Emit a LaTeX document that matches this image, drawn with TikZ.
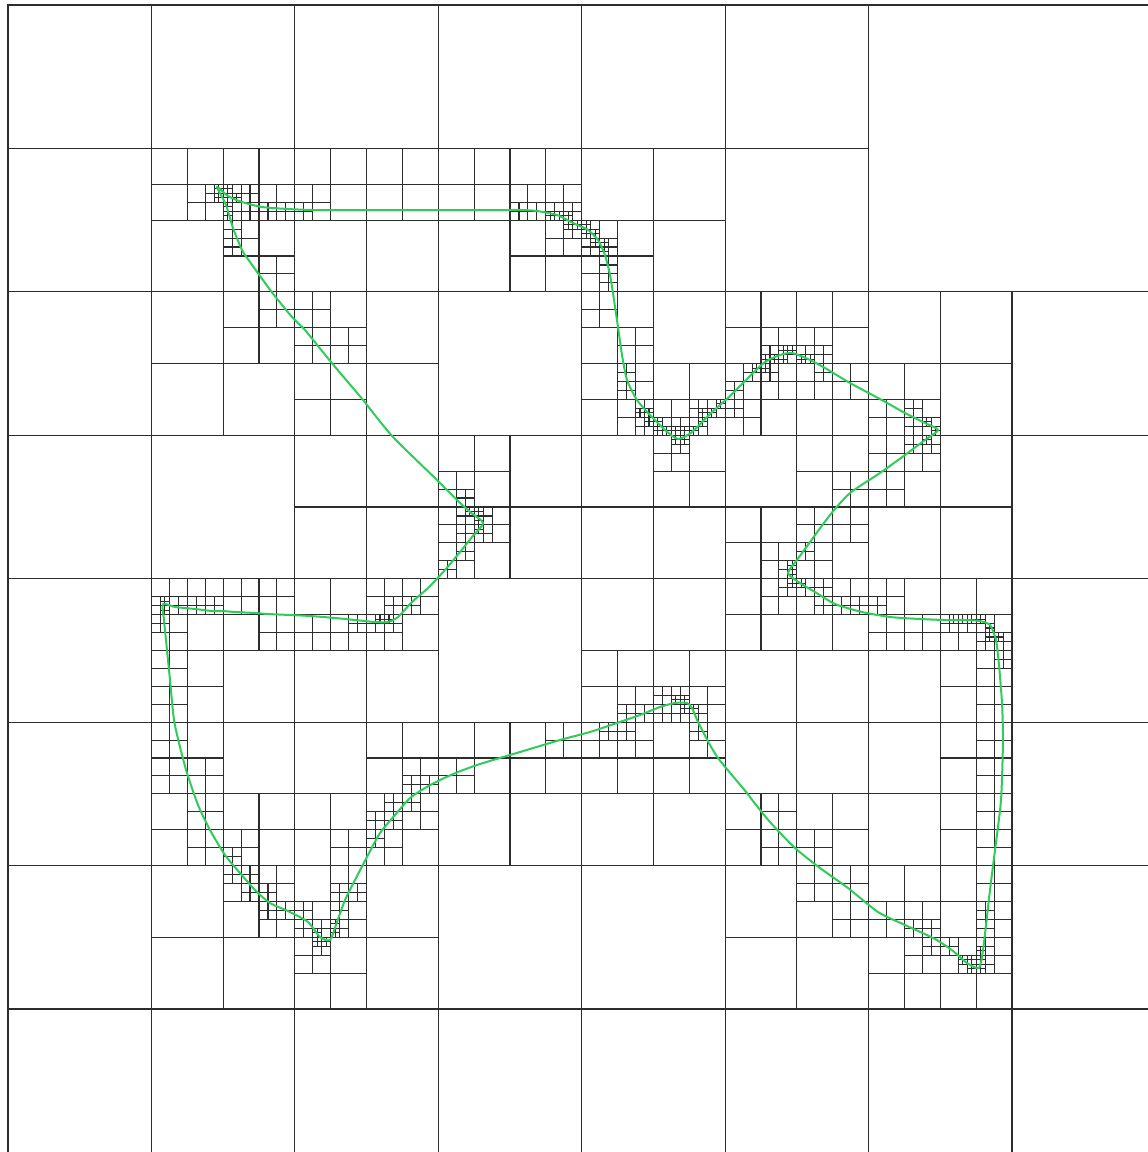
\documentclass[tikz,border=0pt]{standalone}
\usepackage{tikz}
\definecolor{meshGray}{RGB}{45,45,45}
\definecolor{curveGreen}{RGB}{46,204,90}

% quadtree helpers: lengths in pt (1pt = 1px), y counted downwards
\newif\ifqsplit
\newdimen\qxa \newdimen\qxb \newdimen\qya \newdimen\qyb \newdimen\qsz
\def\qsamples{}
\def\qcurve{}
\let\qpt\relax

% contour: start point, then points with the wanted cell size there
\def\qstart#1#2#3{\gdef\qlx{#1}\gdef\qly{#2}\gdef\qlt{#3}}
\def\qto#1#2#3{%
  \pgfmathsetmacro\qlen{veclen(#1-\qlx,#2-\qly)}%
  \pgfmathsetmacro\qstep{max(2,min(12,min(#3,\qlt)/2.5))}%
  \pgfmathtruncatemacro\qn{max(1,ceil(\qlen/\qstep))}%
  \pgfmathtruncatemacro\qnm{\qn-1}%
  \foreach \qk in {0,...,\qnm}{%
    \xdef\qsamples{\qsamples\qpt
      {\the\dimexpr\qlx pt+(#1pt-\qlx pt)*\qk/\qn\relax}%
      {\the\dimexpr\qly pt+(#2pt-\qly pt)*\qk/\qn\relax}%
      {\the\dimexpr\qlt pt+(#3pt-\qlt pt)*\qk/\qn\relax}}}%
  \gdef\qlx{#1}\gdef\qly{#2}\gdef\qlt{#3}%
  \xdef\qcurve{\qcurve (#1pt,-#2pt)}}

% split a cell when a sample inside it wants smaller cells
\def\qcheck#1#2#3{%
  \ifqsplit\else
    \ifdim#3<\qsz
      \ifdim#1>\qxa \ifdim#1<\qxb
        \ifdim#2>\qya \ifdim#2<\qyb \qsplittrue \fi\fi
      \fi\fi
    \fi
  \fi}
\def\qtest#1#2#3{%
  \qsplitfalse
  \qsz=#3\relax
  \qxa=#1\relax \qxb=\dimexpr#1+#3\relax
  \qya=#2\relax \qyb=\dimexpr#2+#3\relax
  \let\qpt\qcheck \qsamples \let\qpt\relax}
\def\qcell#1#2#3{%
  \qtest{#1}{#2}{#3}%
  \ifqsplit
    \edef\qh{\the\dimexpr#3/2\relax}%
    \edef\qxm{\the\dimexpr#1+#3/2\relax}%
    \edef\qym{\the\dimexpr#2+#3/2\relax}%
    \edef\qnext{\noexpand\qcell{#1}{#2}{\qh}\noexpand\qcell{\qxm}{#2}{\qh}%
      \noexpand\qcell{#1}{\qym}{\qh}\noexpand\qcell{\qxm}{\qym}{\qh}}%
  \else
    \def\qnext{\draw[cell] (#1,-#2) rectangle ++(#3,-#3);}%
  \fi
  \qnext}

\begin{document}
\begin{tikzpicture}[
    cell/.style={draw=meshGray, line width=1.1pt},
    contour/.style={draw=curveGreen, line width=2pt, line join=round}
]
    \useasboundingbox (0,0) rectangle (1148pt,-1152pt);
    \clip (0,0) rectangle (1148pt,-1152pt);

    % Contour points: x, y, wanted cell size
    \qstart{217}{187}{5}
    \qto{228}{196}{8}  \qto{242}{202}{10} \qto{262}{207}{10} \qto{288}{209}{15}
    \qto{312}{210}{20} \qto{335}{210}{40} \qto{370}{210}{80} \qto{430}{210}{80}
    \qto{445}{210}{60} \qto{470}{210}{40} \qto{508}{210}{40} \qto{522}{210}{20}
    \qto{537}{211}{10} \qto{557}{215}{8}  \qto{573}{223}{6}  \qto{588}{230}{5}
    \qto{598}{240}{5}  \qto{605}{255}{8}  \qto{610}{275}{15} \qto{614}{300}{20}
    \qto{618}{327}{40} \qto{622}{355}{25} \qto{627}{380}{15} \qto{637}{400}{10}
    \qto{650}{415}{8}  \qto{665}{430}{6}  \qto{678}{439}{5}  \qto{692}{432}{6}
    \qto{710}{414}{8}  \qto{730}{396}{10} \qto{748}{378}{10} \qto{765}{362}{8}
    \qto{780}{355}{6}  \qto{792}{353}{5}  \qto{808}{359}{8}  \qto{825}{368}{15}
    \qto{850}{383}{40} \qto{880}{399}{40} \qto{905}{413}{20} \qto{925}{423}{10}
    \qto{938}{430}{5}  \qto{925}{440}{10} \qto{905}{455}{20} \qto{880}{473}{30}
    \qto{850}{493}{20} \qto{830}{515}{30} \qto{810}{542}{20} \qto{797}{560}{12}
    \qto{788}{573}{5}  \qto{800}{583}{10} \qto{815}{592}{15} \qto{835}{604}{10}
    \qto{862}{612}{15} \qto{890}{617}{20} \qto{920}{619}{40} \qto{945}{620}{10}
    \qto{965}{620}{8}  \qto{980}{621}{6}  \qto{990}{625}{5}  \qto{996}{640}{8}
    \qto{999}{665}{20} \qto{1002}{703}{20} \qto{1003}{740}{20} \qto{1001}{800}{20}
    \qto{995}{850}{20} \qto{990}{890}{20} \qto{986}{925}{15} \qto{983}{950}{8}
    \qto{979}{968}{5}  \qto{967}{963}{8}  \qto{953}{951}{10} \qto{935}{939}{15}
    \qto{905}{925}{20} \qto{878}{912}{20} \qto{848}{888}{20} \qto{820}{868}{20}
    \qto{795}{848}{20} \qto{770}{822}{30} \qto{753}{801}{40} \qto{747}{793}{80}
    \qto{726}{768}{80} \qto{718}{758}{40} \qto{710}{745}{20} \qto{698}{722}{12}
    \qto{692}{708}{10} \qto{687}{703}{5}  \qto{675}{703}{10} \qto{660}{707}{12}
    \qto{640}{715}{15} \qto{608}{726}{10} \qto{590}{732}{25} \qto{560}{740}{40}
    \qto{520}{752}{40} \qto{480}{764}{40} \qto{458}{772}{20} \qto{440}{780}{20}
    \qto{425}{788}{15} \qto{410}{798}{12} \qto{395}{815}{12} \qto{380}{833}{15}
    \qto{368}{855}{20} \qto{355}{880}{20} \qto{345}{900}{15} \qto{337}{922}{10}
    \qto{330}{940}{5}  \qto{320}{937}{8}  \qto{308}{922}{10} \qto{290}{912}{10}
    \qto{270}{903}{12} \qto{255}{890}{15} \qto{240}{873}{15} \qto{225}{855}{20}
    \qto{210}{830}{20} \qto{198}{805}{20} \qto{187}{773}{20} \qto{180}{747}{20}
    \qto{174}{720}{20} \qto{170}{680}{20} \qto{166}{640}{20} \qto{164}{620}{15}
    \qto{163}{604}{5}  \qto{175}{607}{12} \qto{195}{609}{12} \qto{212}{611}{15}
    \qto{222}{611}{20} \qto{235}{612}{40} \qto{255}{613}{40} \qto{268}{614}{20}
    \qto{290}{615}{20} \qto{310}{616}{40} \qto{335}{618}{30} \qto{355}{620}{20}
    \qto{375}{622}{10} \qto{388}{622}{8}  \qto{398}{617}{10} \qto{412}{602}{20}
    \qto{428}{588}{20} \qto{445}{570}{20} \qto{460}{552}{15} \qto{472}{537}{10}
    \qto{483}{523}{5}  \qto{470}{512}{10} \qto{457}{500}{20} \qto{441}{484}{20}
    \qto{436}{479}{80} \qto{393}{437}{80} \qto{367}{405}{80} \qto{364}{401}{40}
    \qto{336}{368}{40} \qto{322}{351}{20} \qto{305}{330}{20} \qto{292}{317}{20}
    \qto{274}{295}{20} \qto{268}{287}{40} \qto{250}{262}{40} \qto{242}{250}{20}
    \qto{233}{228}{10} \qto{226}{205}{8}  \qto{217}{187}{5}

    % Coarse 8x8 cells, refined around the contour
    \foreach \i in {0,...,7}{
        \foreach \j in {0,...,7}{
            \pgfmathtruncatemacro\qskip{and(\i>5,\j<2)}
            \ifnum\qskip=0
                \edef\qbig{\noexpand\qcell{\the\dimexpr8pt+143.43pt*\i\relax}%
                    {\the\dimexpr5pt+143.43pt*\j\relax}{143.43pt}}%
                \qbig
            \fi
        }
    }
    % Unrefined top right block
    \draw[cell] (868.58pt,-5pt) rectangle ++(286.86pt,-286.86pt);

    % Contour
    \edef\qplot{\noexpand\draw[contour] plot[smooth cycle, tension=0.4] coordinates {\qcurve};}
    \qplot
\end{tikzpicture}
\end{document}
